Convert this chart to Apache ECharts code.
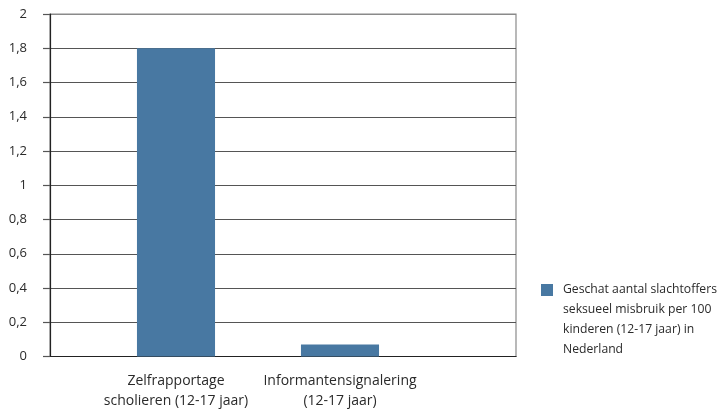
<!DOCTYPE html>
<html>
<head>
<meta charset="utf-8">
<script src="https://cdn.jsdelivr.net/npm/echarts@6/dist/echarts.min.js"></script>
<style>
html,body{margin:0;padding:0;background:#fff;}
#chart{width:721px;height:409px;}
</style>
</head>
<body>
<div id="chart"></div>
<script>
var categories = ['Zelfrapportage\nscholieren (12-17 jaar)', 'Informantensignalering\n(12-17 jaar)'];
var values = [1.8, 0.07];
var seriesName = 'Geschat aantal slachtoffers\nseksueel misbruik per 100\nkinderen (12-17 jaar) in\nNederland';
var yMin = 0, yMax = 2, yStep = 0.2;

var FONT = '"Open Sans", sans-serif';
var gridColors = ['#555', '#555', '#555', '#555', '#555', '#555', '#555', '#555', '#555', '#555', '#8a8a8a'];
var chart = echarts.init(document.getElementById('chart'), null, {renderer: 'canvas'});
chart.setOption({
  animation: false,
  backgroundColor: '#fff',
  grid: [
    {left: 50, right: 205, top: 14, bottom: 52.5, show: true, borderColor: '#8a8a8a', borderWidth: 1.2, containLabel: false, outerBoundsMode: 'none'},
    {left: 94, width: 328, top: 14, bottom: 52.5, containLabel: false, outerBoundsMode: 'none'}
  ],
  xAxis: [
    {gridIndex: 0, type: 'category', data: ['a'], axisLine: {show: true, lineStyle: {color: '#222', width: 1.2}}, axisTick: {show: false}, axisLabel: {show: false}, splitLine: {show: false}},
    {gridIndex: 1, type: 'category', data: categories, axisLine: {show: false}, axisTick: {show: false},
     axisLabel: {margin: 15, color: '#2a2a2a', fontFamily: FONT, fontSize: 14, lineHeight: 20, interval: 0}}
  ],
  yAxis: [
    {gridIndex: 0, type: 'value', min: yMin, max: yMax, interval: yStep,
     axisLine: {show: true, lineStyle: {color: '#222', width: 1.2}},
     axisTick: {show: true, length: 7, lineStyle: {color: '#555', width: 1.2}},
     axisLabel: {margin: 23, color: '#2a2a2a', fontFamily: FONT, fontSize: 13,
       formatter: function (v) { return String(Number(v.toFixed(1))).replace('.', ','); }},
     splitLine: {show: true, lineStyle: {color: gridColors, width: 1.2}}},
    {gridIndex: 1, type: 'value', min: yMin, max: yMax, interval: yStep, show: false}
  ],
  legend: {
    left: 541, top: 220, orient: 'vertical', padding: 0,
    icon: 'rect', itemWidth: 12, itemHeight: 12, itemGap: 8,
    formatter: function (name) { return '\n\n\n' + name; },
    textStyle: {color: '#2a2a2a', fontFamily: FONT, fontSize: 12.2, lineHeight: 20, padding: [0, 0, 0, 5]},
    data: [seriesName]
  },
  series: [{
    name: seriesName, type: 'bar', xAxisIndex: 1, yAxisIndex: 1,
    data: values, barWidth: '47.6%', itemStyle: {color: '#4878a2'}
  }]
});
</script>
</body>
</html>
